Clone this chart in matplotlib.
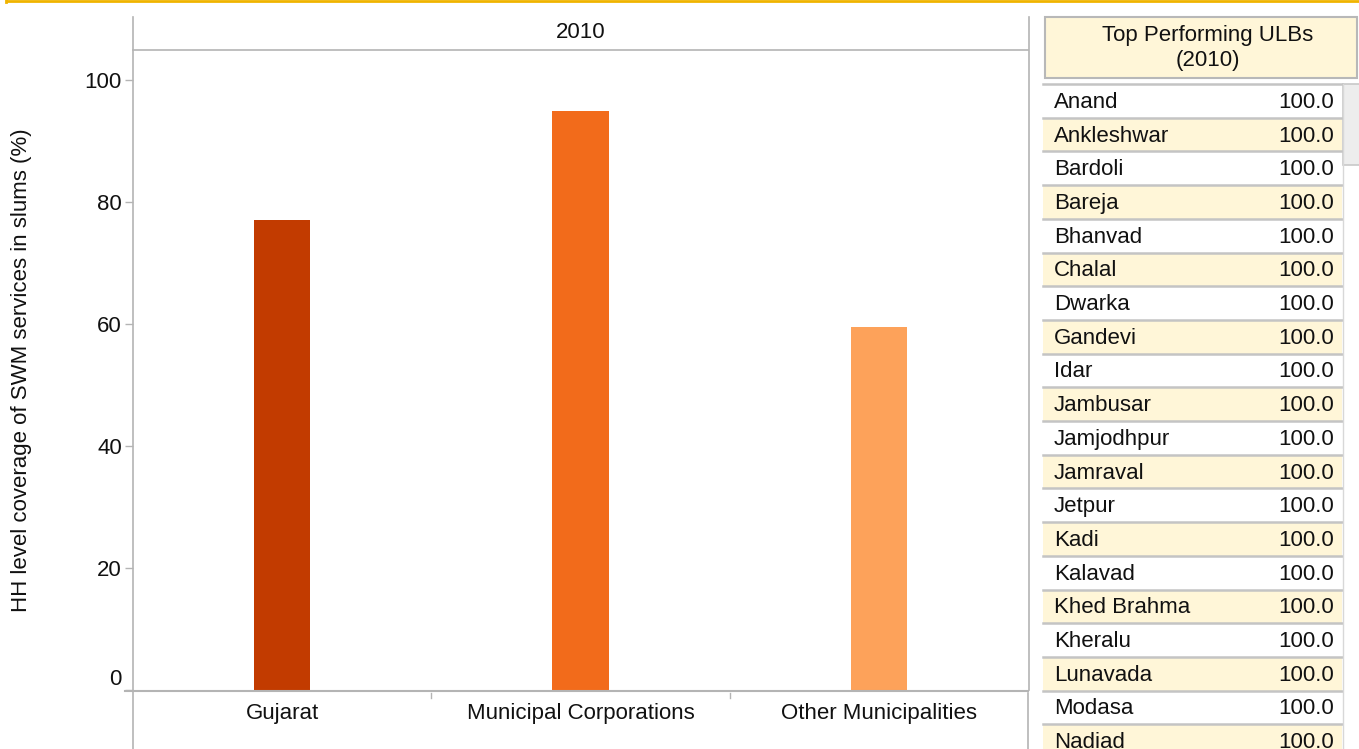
import matplotlib
matplotlib.use("Agg")
import matplotlib.pyplot as plt
from matplotlib.patches import Rectangle

plt.rcParams['font.family'] = ['Liberation Sans', 'DejaVu Sans']

# ---- data ----
categories = ["Gujarat", "Municipal Corporations", "Other Municipalities"]
coverage = [77.1, 94.9, 59.5]
bar_colors = ["#c23b00", "#f26b1b", "#fda25a"]
yticks = [0, 20, 40, 60, 80, 100]
panel_title = "2010"
ylabel = "HH level coverage of SWM services in slums (%)"
table_title = "Top Performing ULBs\n(2010)"
ulb_names = ["Anand", "Ankleshwar", "Bardoli", "Bareja", "Bhanvad", "Chalal",
             "Dwarka", "Gandevi", "Idar", "Jambusar", "Jamjodhpur", "Jamraval",
             "Jetpur", "Kadi", "Kalavad", "Khed Brahma", "Kheralu", "Lunavada",
             "Modasa", "Nadiad"]
ulb_values = [100.0] * len(ulb_names)

W, H = 1359, 749
FS = 16
fig = plt.figure(figsize=(W / 100, H / 100), dpi=100)
fig.patch.set_facecolor("white")

def fx(px):
    return px / W

def fy(py):
    return 1 - py / H

# main axes: x 133..1028, y 50..690 (px)
ax = fig.add_axes([fx(133), fy(690), fx(1028) - fx(133), fy(50) - fy(690)])
ax.bar(range(len(categories)), coverage, width=0.188, color=bar_colors)
ax.set_xlim(-0.5, len(categories) - 0.5)
ax.set_ylim(0, 640 / 6.1)
ax.set_yticks(yticks)
ax.set_yticklabels([str(t) for t in yticks])
ax.set_xticks(range(len(categories)))
ax.set_xticklabels(categories)
for s in ax.spines.values():
    s.set_visible(False)
ax.tick_params(axis='y', length=5.8, width=1, color="#b4b4b4", pad=2.2,
               labelsize=FS, labelcolor="#111111")
ax.tick_params(axis='x', length=0, pad=9.5, labelsize=FS, labelcolor="#111111")
ax.get_yticklabels()[0].set_va("bottom")
ax.set_facecolor("none")

# overlay in pixel coordinates
ov = fig.add_axes([0, 0, 1, 1], zorder=5)
ov.set_xlim(0, W)
ov.set_ylim(H, 0)
ov.axis("off")
ov.patch.set_alpha(0)

gray = "#b4b4b4"
# golden border at top
ov.plot([6, W], [1.2, 1.2], color="#f0b400", lw=2.0, solid_capstyle="butt")
ov.plot([6, 6], [0, 2], color="#f0b400", lw=2.0)
# panel frame
ov.plot([133, 133], [17, 749], color=gray, lw=1.2)
ov.plot([133, 1028], [50, 50], color=gray, lw=1.2)
ov.plot([1028.5, 1028.5], [17, 690], color=gray, lw=1.2)
ov.plot([1028, 1028], [693, 749], color=gray, lw=1.2)
ov.plot([125, 1028], [690.5, 690.5], color=gray, lw=1.5)
for xs in (431, 730):
    ov.plot([xs, xs], [693, 698], color=gray, lw=1.0)
ov.text(581, 33, panel_title, ha="center", va="center", fontsize=FS, color="#111111")
ov.text(22, 370, ylabel, ha="center", va="center", rotation=90, fontsize=FS,
        color="#111111")

# table header
ov.add_patch(Rectangle((1045, 17), 312, 61, facecolor="#fff6d8",
                       edgecolor="#b8b8b8", lw=1.5))
ov.text(1208, 48, table_title, ha="center", va="center", fontsize=FS,
        color="#111111", linespacing=1.2)

# table rows
row_top = 84
row_h = 33.7
for i, (name, val) in enumerate(zip(ulb_names, ulb_values)):
    y0 = row_top + i * row_h
    fc = "#fff6d8" if i % 2 == 1 else "white"
    ov.add_patch(Rectangle((1043, y0), 299, row_h, facecolor=fc, edgecolor="none"))
    ov.plot([1043, 1342], [y0, y0], color="#c4c4c4", lw=1.8)
    ov.text(1054, y0 + row_h / 2 + 1.5, name, ha="left", va="center", fontsize=FS,
            color="#111111")
    ov.text(1334, y0 + row_h / 2 + 1.5, f"{val:.1f}", ha="right", va="center",
            fontsize=FS, color="#111111")

# scrollbar
ov.add_patch(Rectangle((1343, 84), 18, 81, facecolor="#ededed",
                       edgecolor="#c8c8c8", lw=1.2))
ov.plot([1343, 1343], [84, 749], color="#d8d8d8", lw=1.0)

fig.savefig("out.png", dpi=100)
